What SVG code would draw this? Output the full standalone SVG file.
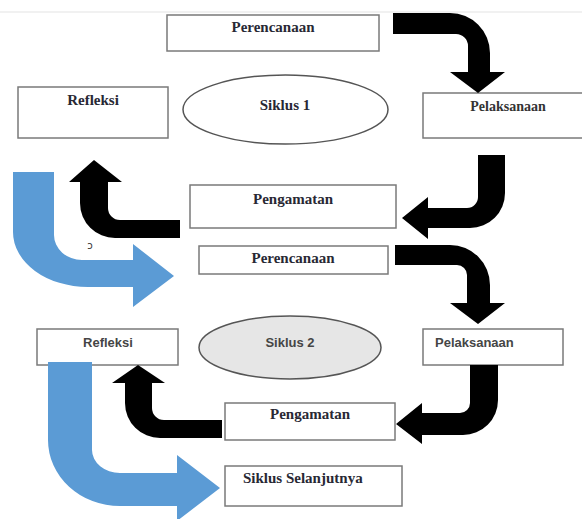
<svg xmlns="http://www.w3.org/2000/svg" width="582" height="519" viewBox="0 0 582 519">
<style>
.box{fill:#fff;stroke:#7a7a7a;stroke-width:1.5}
.ser{font-family:"Liberation Serif","Times New Roman",serif;font-weight:bold;font-size:15px;fill:#282834}
.san{font-family:"Liberation Sans",Arial,sans-serif;font-weight:bold;font-size:13px;fill:#454545}
.blk{fill:#000}
.blu{fill:#5b9bd5}
</style>
<rect width="582" height="519" fill="#fff"/>
<line x1="0" y1="12" x2="582" y2="12" stroke="#ededed" stroke-width="1.5"/>
<g id="perencanaan1"><rect class="box" x="167" y="15" width="212" height="36"/><text class="ser" x="273" y="32" text-anchor="middle">Perencanaan</text></g>
<g id="refleksi1"><rect class="box" x="18" y="87" width="150" height="51"/><text class="ser" x="93" y="105" text-anchor="middle">Refleksi</text></g>
<g id="siklus1"><ellipse cx="285.5" cy="109.5" rx="102.5" ry="34.5" fill="#fff" stroke="#555" stroke-width="1.5"/><text class="ser" x="285" y="110" text-anchor="middle">Siklus 1</text></g>
<g id="pelaksanaan1"><rect class="box" x="423" y="93" width="162" height="45"/><text class="ser" x="508" y="111" text-anchor="middle" style="font-size:14px;fill:#333">Pelaksanaan</text></g>
<g id="pengamatan1"><rect class="box" x="190" y="185" width="206" height="43"/><text class="ser" x="293" y="204" text-anchor="middle">Pengamatan</text></g>
<g id="perencanaan2"><rect class="box" x="199" y="246" width="189" height="28"/><text class="ser" x="293" y="263" text-anchor="middle">Perencanaan</text></g>
<g id="refleksi2"><rect class="box" x="37" y="329" width="141" height="36"/><text class="san" x="108" y="347" text-anchor="middle">Refleksi</text></g>
<g id="siklus2"><ellipse cx="290" cy="347.5" rx="91" ry="31.5" fill="#e6e6e6" stroke="#555" stroke-width="1.5"/><text class="san" x="290" y="347" text-anchor="middle">Siklus 2</text></g>
<g id="pelaksanaan2"><rect class="box" x="423" y="329" width="140" height="36"/><text class="san" x="435" y="347">Pelaksanaan</text></g>
<g id="pengamatan2"><rect class="box" x="225" y="403" width="170" height="37"/><text class="ser" x="310" y="419" text-anchor="middle">Pengamatan</text></g>
<g id="siklusSelanjutnya"><rect class="box" x="225" y="466" width="177" height="40"/><text class="ser" x="243" y="483">Siklus Selanjutnya</text></g>
<text x="90" y="249" style="font-family:'DejaVu Sans',sans-serif;font-size:10px;fill:#333" text-anchor="middle">ɔ</text>
<g id="connectors">
<path class="blk" d="M393,13 H450 A40,40 0 0 1 490,53 V72 H505 L478,93 L450,72 H468 V46 A12,12 0 0 0 456,34 H393 Z"/>
<path class="blk" d="M478,155 H505 V193 A35,35 0 0 1 470,228 H428 V239 L402,218 L428,197 V208 H467 A11,11 0 0 0 478,197 Z"/>
<path class="blk" d="M180,220 V238 H115 A35,35 0 0 1 80,203 V182 H69 L94,160 L122,182 H108 V208 A12,12 0 0 0 120,220 Z"/>
<path class="blu" d="M13,172 H54 V235 A28,25 0 0 0 82,260 H133 V244 L174,276 L133,307 V287 H88 A75,55 0 0 1 13,232 Z"/>
<path class="blk" d="M395,245 H450 A40,40 0 0 1 490,285 V303 H505 L478,324 L450,303 H467 V275 A10,10 0 0 0 457,265 H395 Z"/>
<path class="blk" d="M470,365 H498 V400 A35,35 0 0 1 463,435 H422 V444 L396,424 L422,403 V413 H460 A10,10 0 0 0 470,403 Z"/>
<path class="blk" d="M222,420 V438 H160 A35,35 0 0 1 125,403 V383 H112 L138,365 L165,383 H152 V408 A12,12 0 0 0 164,420 Z"/>
<path class="blu" d="M48,362 H92 V450 A28,23 0 0 0 120,473 H177 V455 L220,488 L177,521 V506 H120 A72,66 0 0 1 48,440 Z"/>
</g>
</svg>
